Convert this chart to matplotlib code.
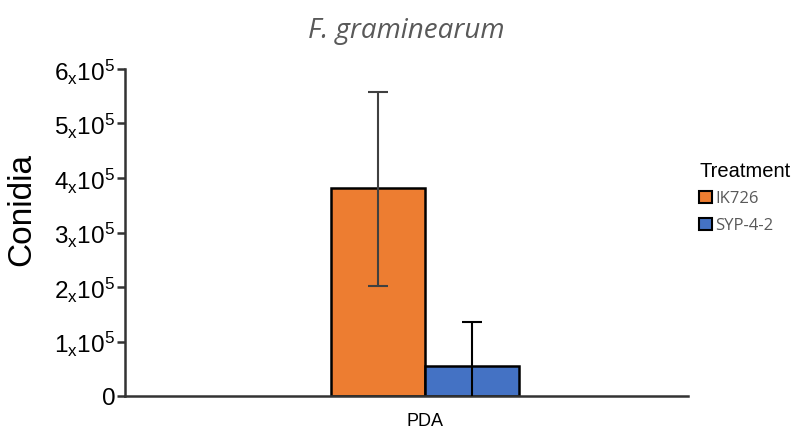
import numpy as np
import matplotlib
matplotlib.use("Agg")
import matplotlib.pyplot as plt
from matplotlib.patches import Patch
from matplotlib.ticker import FuncFormatter

# data
groups = ["PDA"]
treatments = ["IK726", "SYP-4-2"]
means = [3.82e5, 0.55e5]
err_low = [1.80e5, 0.81e5]
err_high = [1.76e5, 0.81e5]
colors = ["#ED7D31", "#4472C4"]
yticks = [0, 1e5, 2e5, 3e5, 4e5, 5e5, 6e5]

plt.rcParams['font.family'] = ['Liberation Sans', 'DejaVu Sans']
plt.rcParams['mathtext.fontset'] = 'custom'
plt.rcParams['mathtext.rm'] = 'Liberation Sans'

fig = plt.figure(figsize=(7.97, 4.32), dpi=100)
ax = fig.add_axes([0.157, 0.0833, 0.706, 0.757])

width = 0.4
offsets = [-width / 2, width / 2]
ecols = ["#404040", "black"]
for i in range(len(treatments)):
    ax.bar(offsets[i], means[i], width=width, color=colors[i],
           edgecolor="black", linewidth=1.8, zorder=2)
    ax.errorbar(offsets[i], means[i], yerr=[[err_low[i]], [err_high[i]]],
                fmt="none", ecolor=ecols[i], elinewidth=1.5, capsize=7,
                capthick=1.5, zorder=3)

ax.set_xlim(-1.277, 1.119)
ax.set_ylim(0, 6e5)
ax.set_xticks([0])
ax.set_xticklabels(groups, fontsize=13)
ax.tick_params(axis="x", length=0, pad=12)

def fmt(v, pos):
    if v == 0:
        return "0"
    return r"$\mathdefault{%d}$" % round(v / 1e5) + r"$_{\mathdefault{x}}$" + r"$\mathdefault{10^{5}}$"

ax.set_yticks(yticks)
ax.yaxis.set_major_formatter(FuncFormatter(fmt))
ax.tick_params(axis="y", labelsize=17.5, length=6, width=1.8, color="#333333", pad=1)

for s in ["top", "right"]:
    ax.spines[s].set_visible(False)
for s in ["left", "bottom"]:
    ax.spines[s].set_linewidth(1.8)
    ax.spines[s].set_color("#333333")

ax.set_ylabel("Conidia", fontsize=24)
ax.yaxis.set_label_coords(-0.156, 0.569)
ax.set_title("F. graminearum", fontsize=20, style="italic", color="#595959",
             family=["Open Sans", "DejaVu Sans"], pad=22)

handles = [Patch(facecolor=colors[i], edgecolor="black", linewidth=1.5, label=treatments[i])
           for i in range(len(treatments))]
leg = fig.legend(handles=handles, title="Treatment", loc="upper left",
                 bbox_to_anchor=(0.869, 0.64), frameon=False,
                 prop={"family": ["Open Sans", "DejaVu Sans"], "size": 12},
                 title_fontsize=14.5, handlelength=0.75, handleheight=0.7,
                 handletextpad=0.2, labelspacing=0.65, borderaxespad=0)
leg._legend_box.align = "left"
leg._legend_box.sep = 7
for t in leg.get_texts():
    t.set_color("#595959")

fig.savefig("out.png", dpi=100)
